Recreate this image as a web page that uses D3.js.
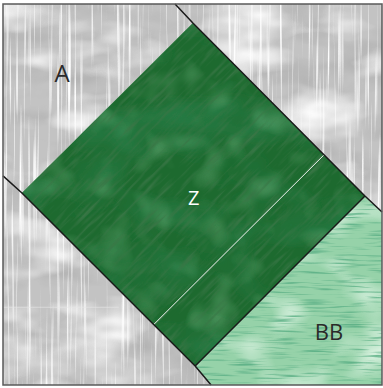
<!DOCTYPE html>
<html>
<head>
<meta charset="utf-8">
<style>
  body { margin: 0; background: #fff; }
  svg { display: block; }
  .lbl { font-family: "Open Sans", "DejaVu Sans", sans-serif; font-weight: 400; }
</style>
</head>
<body>
<div id="chart"></div>
<script src="https://cdnjs.cloudflare.com/ajax/libs/d3/7.8.5/d3.min.js"></script>
<script>
// block drawn on a 0..100 grid (both directions)
const pieceNames = ["A", "Z", "BB"];
const pieceColors = ["#c3c3c3", "#1d6a2f", "#96d2a9"];
const pieceA = [[0, 0], [45.4, 0], [50.1, 5], [5, 49.6], [50.7, 95], [54.9, 100], [0, 100]];
const pieceA2 = [[45.4, 0], [100, 0], [100, 54.6], [95.5, 50.4], [50.1, 5]];
const pieceZ = [[50.1, 5], [95.5, 50.4], [50.7, 95], [5, 49.6]];
const pieceBB = [[95.5, 50.4], [100, 54.6], [100, 100], [54.9, 100], [50.7, 95]];
const seamZ = [[84.7, 39.6], [39.6, 84.3]];
const seamA = [[0, 79.6], [30.5, 79.6]];
const cutLines = [
  [[45.4, 0], [50.1, 5], [95.5, 50.4], [100, 54.6]],
  [[0, 45.1], [5, 49.6], [50.7, 95], [54.9, 100]],
  [[95.5, 50.4], [50.7, 95]]
];
const labelPos = [[15.6, 20.6], [50.3, 52.8], [86, 88.2]];
const labelSize = [24, 20, 22];
const labelColor = ["#2a2a2a", "#ffffff", "#2a2a2a"];

const W = 383, H = 388;
const x = d3.scaleLinear().domain([0, 100]).range([3, 382]);
const y = d3.scaleLinear().domain([0, 100]).range([4, 385]);
const line = d3.line().x(d => x(d[0])).y(d => y(d[1]));

const svg = d3.select("#chart").append("svg").attr("width", W).attr("height", H);
const defs = svg.append("defs");

// texture filters: noise turned into alpha, clipped to the shape
function texFilter(id, freq, oct, seed, rgb, a, b) {
  const f = defs.append("filter").attr("id", id)
    .attr("x", 0).attr("y", 0).attr("width", 1).attr("height", 1);
  f.append("feTurbulence").attr("type", "fractalNoise")
    .attr("baseFrequency", freq).attr("numOctaves", oct).attr("seed", seed).attr("result", "n");
  f.append("feColorMatrix").attr("in", "n").attr("type", "matrix")
    .attr("values", `0 0 0 0 ${rgb[0]} 0 0 0 0 ${rgb[1]} 0 0 0 0 ${rgb[2]} ${a} 0 0 0 ${b}`)
    .attr("result", "c");
  f.append("feComposite").attr("in", "c").attr("in2", "SourceGraphic").attr("operator", "in");
}
texFilter("grayLight", "0.014 0.03", 3, 4, [1, 1, 1], 2.2, -1.0);
texFilter("grayDark", "0.018 0.035", 3, 9, [0.45, 0.45, 0.45], 2.4, -1.05);
texFilter("grayStreak", "0.35 0.008", 2, 2, [1, 1, 1], 3.5, -1.9);
texFilter("greenDark", "0.012 0.02", 3, 5, [0.02, 0.2, 0.06], 2.2, -0.9);
texFilter("greenLight", "0.03 0.03", 2, 11, [0.2, 0.5, 0.25], 1.2, -0.6);
texFilter("greenHatch", "0.3 0.03", 2, 7, [0.04, 0.18, 0.06], 3.0, -1.5);
texFilter("bbDash", "0.03 0.45", 2, 3, [0.12, 0.45, 0.25], 3.4, -1.75);
texFilter("bbLight", "0.02 0.03", 2, 6, [0.85, 0.97, 0.88], 2.0, -0.95);

const g = svg.append("g");

function piece(p, fill, filters, clipId, rot) {
  const d = line(p) + "Z";
  g.append("path").attr("d", d).attr("fill", fill);
  defs.append("clipPath").attr("id", clipId).append("path").attr("d", d);
  const cg = g.append("g").attr("clip-path", `url(#${clipId})`);
  filters.forEach(fid =>
    cg.append("rect").attr("x", -200).attr("y", -200).attr("width", 800).attr("height", 800)
      .attr("fill", "#000").attr("filter", `url(#${fid})`)
      .attr("transform", rot && fid === filters[filters.length - 1] ? `rotate(${rot} 192 194)` : null));
}

piece(pieceA, pieceColors[0], ["grayDark", "grayLight", "grayStreak"], "cA");
piece(pieceA2, pieceColors[0], ["grayDark", "grayLight", "grayStreak"], "cA2");
piece(pieceZ, pieceColors[1], ["greenDark", "greenLight", "greenHatch"], "cZ", 45);
piece(pieceBB, pieceColors[2], ["bbLight", "bbDash"], "cBB");

// seams
g.append("path").attr("d", line(seamZ)).attr("stroke", "#f4f4f4").attr("stroke-width", 1).attr("fill", "none");
g.append("path").attr("d", line(seamA)).attr("stroke", "#e8e8e8").attr("stroke-width", 1).attr("fill", "none").attr("opacity", 0.6);

// cut lines
cutLines.forEach(c =>
  g.append("path").attr("d", line(c)).attr("stroke", "#1a1a1a").attr("stroke-width", 1.5).attr("fill", "none"));

// frame
g.append("rect").attr("x", x(0)).attr("y", y(0)).attr("width", x(100) - x(0)).attr("height", y(100) - y(0))
  .attr("fill", "none").attr("stroke", "#5a5a5a").attr("stroke-width", 1.5);

// labels
pieceNames.forEach((n, i) => {
  svg.append("text").attr("class", "lbl")
    .attr("x", x(labelPos[i][0])).attr("y", y(labelPos[i][1]))
    .attr("text-anchor", "middle")
    .attr("font-size", labelSize[i])
    .attr("fill", labelColor[i])
    .text(n);
});
</script>
</body>
</html>
